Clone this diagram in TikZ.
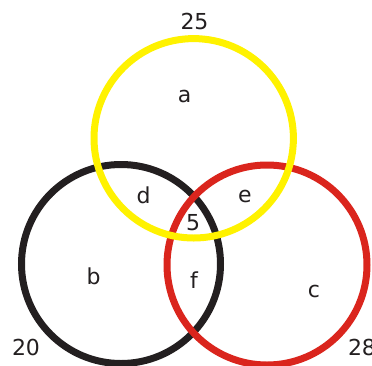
\documentclass[tikz,border=0pt]{standalone}
\usepackage{fontspec}
\setmainfont{DejaVu Sans}
\definecolor{vyellow}{HTML}{FFF200}
\definecolor{vblack}{HTML}{231F20}
\definecolor{vred}{HTML}{DA251D}
\definecolor{vtext}{HTML}{231F20}
\begin{document}
\begin{tikzpicture}[x=1pt,y=-1pt,
  ring/.style={line width=7pt},
  lbl/.style={anchor=base,inner sep=0pt,text=vtext,font=\fontsize{22}{26}\selectfont}]
\useasboundingbox (0,0) rectangle (372,365);
\coordinate (cb) at (121,264);
\coordinate (cr) at (267,265);
\coordinate (cy) at (193.7,138.3);
\draw[ring,vblack] (cb) circle[radius=99.5];
\draw[ring,vred] (cr) circle[radius=100];
\draw[ring,vyellow] (cy) circle[radius=99.7];
\node[lbl] (n25) at (194.5,29) {25};
\node[lbl] (na) at (184.5,102) {a};
\node[lbl] (nd) at (143.5,203) {d};
\node[lbl] (ne) at (245,202) {e};
\node[lbl] (n5) at (193,230) {5};
\node[lbl] (nb) at (93.5,284) {b};
\node[lbl] (nf) at (194,288) {f};
\node[lbl] (nc) at (314,297) {c};
\node[lbl] (n20) at (26,355) {20};
\node[lbl] (n28) at (362,355) {28};
\end{tikzpicture}
\end{document}
